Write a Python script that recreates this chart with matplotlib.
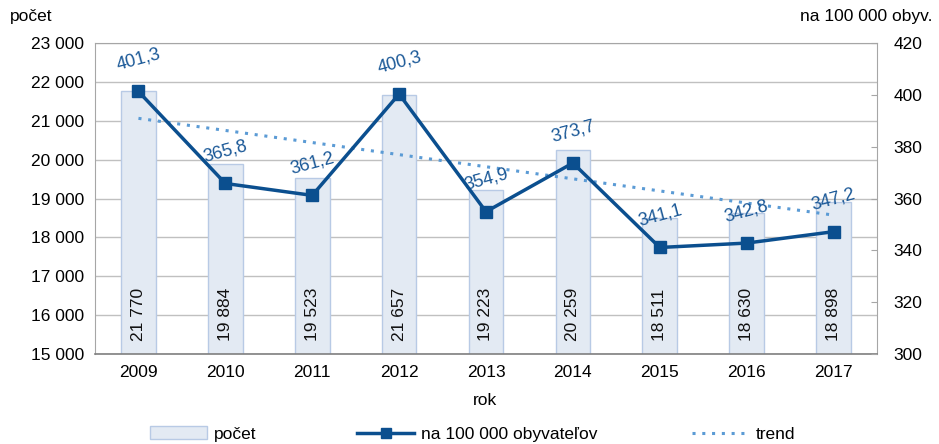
import matplotlib
matplotlib.use("Agg")
import matplotlib.pyplot as plt
import numpy as np
from matplotlib.lines import Line2D
from matplotlib.patches import Patch

years = ["2009", "2010", "2011", "2012", "2013", "2014", "2015", "2016", "2017"]
counts = [21770, 19884, 19523, 21657, 19223, 20259, 18511, 18630, 18898]
rates = [401.3, 365.8, 361.2, 400.3, 354.9, 373.7, 341.1, 342.8, 347.2]
left_ticks = [15000, 16000, 17000, 18000, 19000, 20000, 21000, 22000, 23000]
right_ticks = [300, 320, 340, 360, 380, 400, 420]

def fmt_thousands(v):
    return f"{v:,}".replace(",", " ")

plt.rcParams['font.family'] = ['Liberation Sans', 'DejaVu Sans']

fig = plt.figure(figsize=(9.39, 4.44), dpi=100)
ax = fig.add_axes([95/939, 1-354/444, (877-95)/939, (354-43)/444])
ax2 = ax.twinx()

x = np.arange(len(years))
bar_face = "#e3eaf3"
bar_edge = "#b8cae5"
line_col = "#0b4f8f"
trend_col = "#5b9bd5"
label_col = "#1a5897"

ax.bar(x, counts, width=0.4, color=bar_face, edgecolor=bar_edge, linewidth=1.0, zorder=2)
ax.set_ylim(15000, 23000)
ax.set_xlim(-0.5, len(years) - 0.5)
ax.set_yticks(left_ticks)
ax.set_yticklabels([fmt_thousands(v) for v in left_ticks], fontsize=12.5)
ax.set_xticks(x)
ax.set_xticklabels(years, fontsize=12.5)
ax.tick_params(axis='y', length=0, pad=8)
ax.tick_params(axis='x', length=0, pad=8)
ax.grid(axis='y', color='#c0c0c0', linewidth=1.0, zorder=0)
ax.set_axisbelow(True)
for s in ['top', 'left', 'right']:
    ax.spines[s].set_color('#a6a6a6')
ax.spines['bottom'].set_color('#7f7f7f')
ax.spines['bottom'].set_linewidth(1.2)

# bar value labels
for xi, c in zip(x, counts):
    ax.text(xi, 15330, fmt_thousands(c), rotation=90, ha='center', va='bottom',
            fontsize=12.5, color='#111111', zorder=5)

# trend (linear fit of counts)
coef = np.polyfit(x, counts, 1)
trend = np.polyval(coef, x)
ax.plot(x, trend, linestyle=(0, (1, 2.2)), color=trend_col, linewidth=2.2, zorder=3)

# rate line on right axis
ax2.plot(x, rates, color=line_col, linewidth=2.5, marker='s', markersize=9,
         markerfacecolor=line_col, markeredgecolor=line_col, zorder=4)
ax2.set_ylim(300, 420)
ax2.set_yticks(right_ticks)
ax2.set_yticklabels([str(v) for v in right_ticks], fontsize=12.5)
ax2.tick_params(axis='y', direction='in', length=4, color='#a6a6a6', pad=12)
for s in ['top', 'left', 'right', 'bottom']:
    ax2.spines[s].set_visible(False)

for xi, r in zip(x, rates):
    ax2.annotate(f"{r:.1f}".replace(".", ","), (xi, r), xytext=(0, 23),
                 textcoords='offset points', ha='center', va='center',
                 rotation=15, fontsize=13, color=label_col)

fig.text(10/939, 1-17/444, "počet", fontsize=12.5, ha='left', va='center')
fig.text(933/939, 1-17/444, "na 100 000 obyv.", fontsize=12.5, ha='right', va='center')
fig.text(485/939, 1-400/444, "rok", fontsize=12.5, ha='center', va='center')

handles = [
    Patch(facecolor=bar_face, edgecolor=bar_edge),
    Line2D([0], [0], color=line_col, linewidth=2.5, marker='s', markersize=7),
    Line2D([0], [0], color=trend_col, linewidth=2.2, linestyle=(0, (1, 2.2))),
]
labels = ["počet", "na 100 000 obyvateľov", "trend"]
starts = [150, 357, 692]
for h, l, sx in zip(handles, labels, starts):
    fig.legend([h], [l], loc='center left', bbox_to_anchor=(sx/939, 1-434/444),
               frameon=False, fontsize=12.5, handlelength=3.3,
               handletextpad=0.4, borderaxespad=0, borderpad=0)

fig.savefig("out.png", dpi=100)
